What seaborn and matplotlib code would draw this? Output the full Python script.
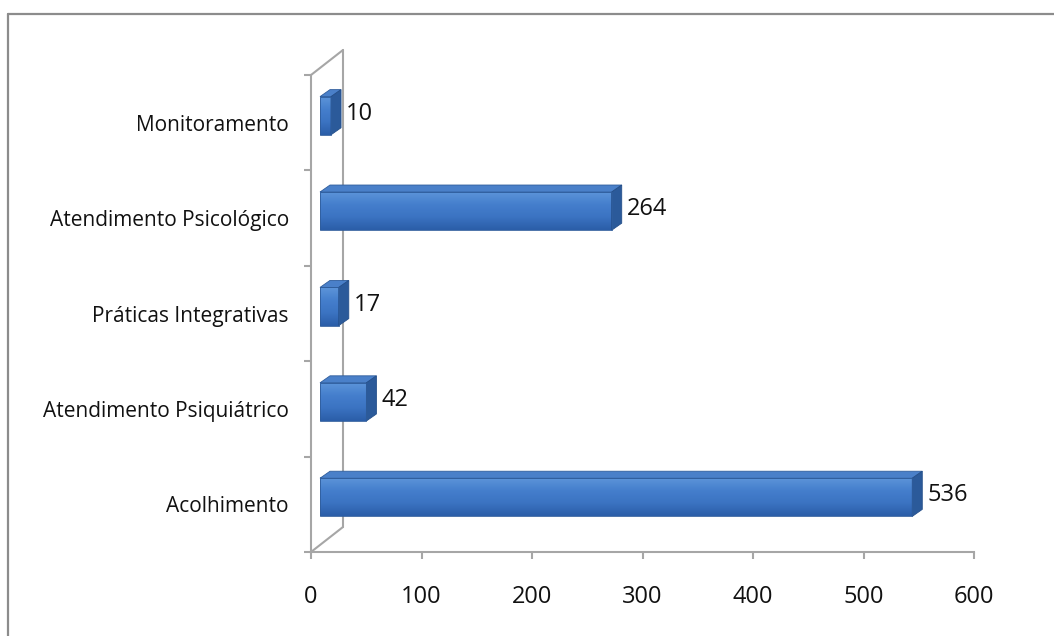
import numpy as np
import matplotlib
matplotlib.use("Agg")
import matplotlib.pyplot as plt
import seaborn as sns
from matplotlib.transforms import ScaledTranslation
from matplotlib.patches import Polygon
from matplotlib.lines import Line2D
from matplotlib.colors import LinearSegmentedColormap

categories = ["Monitoramento", "Atendimento Psicológico", "Práticas Integrativas",
              "Atendimento Psiquiátrico", "Acolhimento"]
values = [10, 264, 17, 42, 536]
x_ticks = [0, 100, 200, 300, 400, 500, 600]

sns.set_theme(style="white")
plt.rcParams["font.family"] = ["Open Sans", "DejaVu Sans"]

DPI = 100
W, H = 1054, 636
fig = plt.figure(figsize=(W / DPI, H / DPI), dpi=DPI)
fig.patch.set_facecolor("white")

ax_l, ax_r, ax_t, ax_b = 311, 974, 75, 552
ax = fig.add_axes([ax_l / W, (H - ax_b) / H, (ax_r - ax_l) / W, (ax_b - ax_t) / H])
ax.set_facecolor("none")

grey = "#a6a6a6"
FS = 15
FS_NUM = 17
txt = "#111111"

sns.barplot(x=values, y=categories, orient="h", width=0.4, color="#3f78c6",
            ax=ax, zorder=3, saturation=1)

ax.set_xlim(0, 600)
ax.set_ylim(4.5, -0.5)

def off(dx_px, dy_px):
    return ScaledTranslation(dx_px / DPI, dy_px / DPI, fig.dpi_scale_trans)

# data units per pixel
sx = 600 / (ax_r - ax_l)
sy = 5 / (ax_b - ax_t)

T_front = ax.transData + off(9, 7)
ddx, ddy = 10 * sx, 7 * sy

grad = np.linspace(0, 1, 64).reshape(-1, 1)
cmap = LinearSegmentedColormap.from_list("bar", ["#5d95da", "#457fcd", "#3b73c2", "#2b5ea8"])

for p in list(ax.patches):
    x0, y0 = p.get_x(), p.get_y()
    w, h = p.get_width(), p.get_height()
    x1 = x0 + w
    ytop, ybot = y0, y0 + h
    p.set_transform(T_front)
    p.set_facecolor("none")
    p.set_edgecolor("#2f5d9c")
    p.set_linewidth(0.6)
    p.set_zorder(5)
    ax.imshow(grad, extent=[x0, x1, ybot, ytop], aspect="auto", cmap=cmap,
              transform=T_front, zorder=4, interpolation="bilinear")
    top = Polygon([(x0, ytop), (x1, ytop), (x1 + ddx, ytop - ddy), (x0 + ddx, ytop - ddy)],
                  closed=True, transform=T_front, facecolor="#4a80c9",
                  edgecolor="#2f5d9c", linewidth=0.6, zorder=4)
    side = Polygon([(x1, ytop), (x1, ybot), (x1 + ddx, ybot - ddy), (x1 + ddx, ytop - ddy)],
                   closed=True, transform=T_front, facecolor="#2b5a9a",
                   edgecolor="#244f8a", linewidth=0.6, zorder=4)
    ax.add_patch(top)
    ax.add_patch(side)

ax.set_xlim(0, 600)
ax.set_ylim(4.5, -0.5)

# value labels
for i, v in enumerate(values):
    ax.annotate(str(v), xy=(v, i), xytext=(24, 9), textcoords="offset pixels",
                ha="left", va="center", fontsize=FS_NUM, color=txt, zorder=6)

# 3D wall lines
wdx, wdy = 32 * sx, 25 * sy
wall_kw = dict(color=grey, lw=1.5, clip_on=False, zorder=1)
ax.plot([wdx, wdx], [-0.5 - wdy, 4.5 - wdy], **wall_kw)
ax.plot([0, wdx], [-0.5, -0.5 - wdy], **wall_kw)
ax.plot([0, wdx], [4.5, 4.5 - wdy], **wall_kw)

# spines
for s in ["top", "right"]:
    ax.spines[s].set_visible(False)
for s in ["left", "bottom"]:
    ax.spines[s].set_color(grey)
    ax.spines[s].set_linewidth(1.5)

ax.set_xticks(x_ticks)
ax.set_xticklabels([str(t) for t in x_ticks])
ax.tick_params(axis="x", direction="out", length=5, width=1.5, color=grey,
               pad=19, labelsize=FS_NUM, labelcolor=txt, bottom=True)
ax.set_yticks(range(len(categories)))
ax.set_yticklabels(categories)
ax.set_yticks(np.arange(-0.5, 5.0, 1.0), minor=True)
ax.tick_params(axis="y", which="major", length=0, pad=16, labelsize=FS, labelcolor=txt)
ax.tick_params(axis="y", which="minor", direction="out", length=5, width=1.5, color=grey, left=True)
ax.set_xlabel("")
ax.set_ylabel("")
ax.grid(False)

# figure border (top and left edges visible)
bc = "#8c8c8c"
fig.add_artist(Line2D([8 / W, 1.0], [(H - 14) / H, (H - 14) / H], color=bc, lw=1.6,
                      transform=fig.transFigure))
fig.add_artist(Line2D([8 / W, 8 / W], [0, (H - 14) / H], color=bc, lw=1.6,
                      transform=fig.transFigure))

fig.savefig("out.png", dpi=DPI)
